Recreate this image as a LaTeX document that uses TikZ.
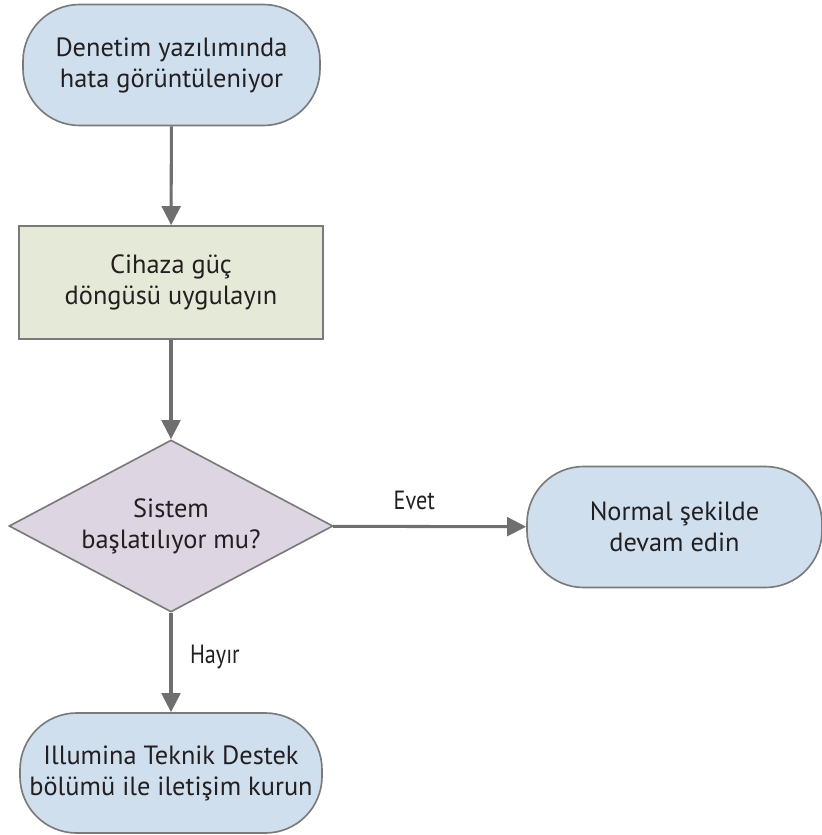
\documentclass[tikz,border=0pt]{standalone}
\usepackage{fontspec}
\setmainfont{PT Sans}
\usetikzlibrary{shapes.geometric,arrows.meta}
\definecolor{termfill}{HTML}{CFDFEE}
\definecolor{stepfill}{HTML}{E5EAD8}
\definecolor{askfill}{HTML}{DDD5E1}
\definecolor{edgegray}{HTML}{7A7A7A}
\definecolor{linegray}{HTML}{6F6F6F}
\definecolor{inkcol}{HTML}{231F20}
\begin{document}
\begin{tikzpicture}[x=0.03cm,y=-0.03cm,->,>={Triangle[length=0.57cm,width=0.56cm]}]
    \tikzstyle{box}=[draw=edgegray,line width=1.4pt,text=inkcol,inner sep=0pt,align=center,font=\fontsize{22.5}{26.5}\selectfont]
    \tikzstyle{term}=[box,fill=termfill,rounded corners=1.7cm,minimum height=3.63cm]
    \tikzstyle{stepbox}=[box,fill=stepfill,minimum width=9.12cm,minimum height=3.39cm]
    \tikzstyle{ask}=[box,fill=askfill,shape=diamond,aspect=1.88,minimum width=9.72cm,minimum height=5.16cm]
    \tikzstyle{flow}=[draw=linegray,line width=2.6pt]
    \tikzstyle{lbl}=[inner sep=0pt,text=inkcol,font=\fontsize{22.5}{24}\selectfont]

    \useasboundingbox (0,0) rectangle (822,835);

    \node[term,minimum width=8.91cm](err) at (171.5,65){Denetim yazılımında\\hata görüntüleniyor};
    \node[stepbox](cycle) at (171,282.5){Cihaza güç\\döngüsü uygulayın};
    \node[ask](boot) at (171,526){Sistem\\başlatılıyor mu?};
    \node[term,minimum width=8.85cm](normal) at (674.5,527){Normal şekilde\\devam edin};
    \node[term,minimum width=9.06cm,minimum height=3.6cm](support) at (171,773){Illumina Teknik Destek\\bölümü ile iletişim kurun};

    \draw[flow] (err) -- (cycle);
    \draw[flow] (cycle) -- (boot);
    \draw[flow] (boot) -- node[lbl,pos=.42,above=13pt]{\scalebox{.84}[1]{Evet}} (normal);
    \draw[flow] (boot) -- node[lbl,pos=.44,right=15pt]{\scalebox{.84}[1]{Hayır}} (support);
  \end{tikzpicture}
\end{document}
